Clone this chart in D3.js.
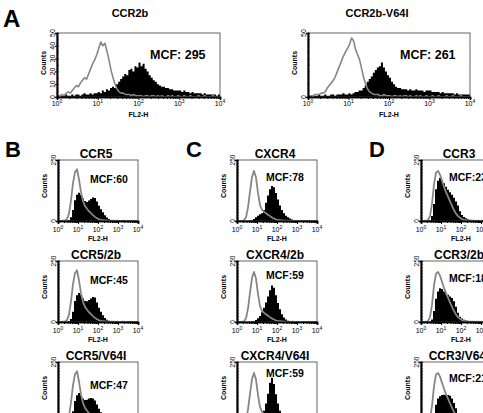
<!DOCTYPE html>
<html>
<head>
<meta charset="utf-8">
<script src="https://cdn.jsdelivr.net/npm/d3@7"></script>
<style>
  body { margin: 0; background: #fff; }
  text { font-family: "Liberation Sans", Arial, Helvetica, sans-serif; }
</style>
</head>
<body>
<script>
// ---- data: histogram counts per bin, bins evenly spaced in log10(FL2-H) from 10^0 to 10^4 ----

// Panel A, 20 bins per decade
const ccr2bCtrl = [1,1,2,1, 3,4,3,5, 7,9,8,11, 13,15,14,18, 22,26,29,33,
  38,43,40,42, 36,29,21,15, 10,6,4,3, 3,2,2,2, 1,2,1,1,
  1,1,0,1,1,0,1,1,0,1, 0,1,0,0,1,0,1,0,0,1,
  0,0,1,0,0,1,0,0,0,1, 0,0,1,0,0,0,1,0,0,0];
const ccr2bStain = [1,0,1,1,2,1,1,2,1,2, 2,1,2,3,2,2,3,2,3,3,
  4,3,5,4,6,5,7,8,7,10, 12,14,16,18,17,21,22,20,24,23,
  27,24,26,22,20,17,15,13,12,10, 9,8,8,7,7,6,6,5,5,5,
  5,4,5,4,4,3,4,3,3,3, 3,2,3,2,2,2,2,2,1,2];
const v64iCtrl = [1,1,1,2,2,2,3,3, 4,7,9,11,13,16,20,24,
  28,32,35,38,41,46,44,37, 33,29,22,15,10,6,4,3,
  2,2,2,1,1,2,1,1,
  1,0,1,1,0,1,0,1,1,0, 1,0,0,1,0,1,0,0,1,0,
  0,1,0,0,1,0,0,0,1,0, 0,1,0,0,0,1,0,0,0,0];
const v64iStain = [1,1,0,1,1,2,1,1,2,1, 1,2,2,1,2,2,2,3,2,2,
  3,2,3,4,4,5,5,7,9,12, 14,16,19,21,23,24,27,23,20,17,
  15,12,10,8,7,7,6,6,6,5, 6,5,5,6,5,5,5,4,5,5,
  5,4,4,4,4,3,4,3,3,3, 3,3,2,3,2,2,2,2,2,2];

// Panels B-D, 10 bins per decade
const ccr5Ctrl = [0,0,1,2,8,30,85,155,200,212, 170,118,82,62,50,40,32,24,17,11,
  7,5,3,2,2,1,1,1,0,1, 0,0,1,0,0,0,0,0,0,0];
const ccr5Stain = [0,0,0,1,1,3,15,45,85,108, 116,108,92,82,78,84,90,96,94,80,
  62,48,36,24,14,8,4,2,1,1, 1,0,1,1,0,0,1,0,0,0];
const ccr5_2bStain = [0,0,0,1,1,3,12,42,86,110, 119,112,96,86,85,90,96,102,100,80,
  58,42,28,16,9,5,3,2,1,1, 0,1,0,0,1,0,0,0,0,0];
const ccr5V64iStain = [0,0,0,1,1,4,16,48,90,114, 123,115,100,94,95,100,102,100,92,76,
  58,44,32,20,12,7,4,2,1,1, 1,0,0,1,0,0,0,0,0,0];

const cxcr4Ctrl = [0,0,1,3,15,55,120,180,205,178, 115,65,46,38,32,26,20,14,10,6,
  4,3,2,1,1,1,0,1,0,0, 0,0,0,0,0,0,0,0,0,0];
const cxcr4Stain = [0,0,0,0,1,1,2,3,8,15, 22,28,32,45,75,105,130,143,138,115,
  88,64,45,32,22,15,10,6,3,2, 1,1,1,0,1,0,0,0,0,0];
const cxcr4_2bStain = [0,0,0,0,1,1,1,2,3,8, 15,25,40,58,80,105,130,150,140,110,
  78,52,32,18,10,5,3,2,1,1, 0,0,0,0,0,0,0,0,0,0];
const cxcr4V64iStain = [0,0,0,0,1,1,2,3,6,9, 12,20,32,50,80,120,165,185,160,118,
  80,50,30,18,10,5,3,2,1,1, 0,0,0,0,0,0,0,0,0,0];

const ccr3Ctrl = [0,0,1,4,20,70,150,198,205,190, 165,140,118,100,80,62,45,30,20,13,
  8,5,3,2,1,1,1,0,1,0, 0,0,0,0,0,0,0,0,0,0];
const ccr3Stain = [0,0,0,1,3,20,70,130,165,176, 168,155,140,128,118,108,95,80,64,40,
  25,16,11,7,5,3,2,2,1,1, 1,0,1,0,0,0,0,0,0,0];
const ccr3_2bStain = [0,0,0,1,2,10,45,95,125,138, 135,125,118,112,105,98,85,62,38,22,
  14,9,6,4,3,2,1,1,1,0, 0,0,0,0,0,0,0,0,0,0];
const ccr3V64iStain = [0,0,0,1,2,8,35,75,100,110, 115,116,114,115,112,100,82,60,40,25,
  15,9,6,4,2,1,1,1,0,0, 0,0,0,0,0,0,0,0,0,0];

// axis labels
const decadeTicks = [1, 10, 100, 1000, 10000];
const decadeExps = ["0", "1", "2", "3", "4"];
const yLabelsA1 = [0, 10, 20, 30, 40, 50];
const yLabelsA2 = [0, 50];
const yLabelsBCD = [0, 250];

const titles = ["CCR2b", "CCR2b-V64I",
  "CCR5", "CCR5/2b", "CCR5/V64I",
  "CXCR4", "CXCR4/2b", "CXCR4/V64I",
  "CCR3", "CCR3/2b", "CCR3/V64I"];
const mcfs = ["MCF: 295", "MCF: 261",
  "MCF:60", "MCF:45", "MCF:47",
  "MCF:78", "MCF:59", "MCF:59",
  "MCF:23", "MCF:18", "MCF:21"];

// ---- layout ----
const width = 483, height = 413;
const svg = d3.select("body").append("svg")
  .attr("width", width).attr("height", height);

const colX = [58, 237, 421];
const rowY = [160, 261, 362];
const mcfOff = [[32, 23], [32, 23], [32, 27],   // B rows
                [29, 21], [29, 18], [29, 15],   // C rows
                [28, 21], [28, 21], [28, 20]];  // D rows

const panels = [
  {title: titles[0], mcf: mcfs[0], ctrl: ccr2bCtrl, stain: ccr2bStain, ymax: 50, yLabels: yLabelsA1, yMinor: 5,
   x0: 57, y0: 33, w: 163, h: 64, titleX: 130, titleY: 17, titleSize: 11, mcfX: 150, mcfY: 59, mcfSize: 12.5, big: true},
  {title: titles[1], mcf: mcfs[1], ctrl: v64iCtrl, stain: v64iStain, ymax: 50, yLabels: yLabelsA2, yMinor: 5,
   x0: 308, y0: 33, w: 162, h: 64, titleX: 377, titleY: 17, titleSize: 11, mcfX: 400, mcfY: 59, mcfSize: 12.5, big: true}
];
const colData = [
  [ccr5Ctrl, [ccr5Stain, ccr5_2bStain, ccr5V64iStain]],
  [cxcr4Ctrl, [cxcr4Stain, cxcr4_2bStain, cxcr4V64iStain]],
  [ccr3Ctrl, [ccr3Stain, ccr3_2bStain, ccr3V64iStain]]
];
colData.forEach((cd, c) => {
  cd[1].forEach((stain, r) => {
    const k = c * 3 + r;
    panels.push({title: titles[2 + k], mcf: mcfs[2 + k], ctrl: cd[0], stain: stain, ymax: 250,
      yLabels: yLabelsBCD, yMinor: 12.5,
      x0: colX[c], y0: rowY[r], w: 80, h: 61,
      titleX: colX[c] + 38, titleY: rowY[r] - 2, titleSize: 12,
      mcfX: colX[c] + mcfOff[k][0], mcfY: rowY[r] + mcfOff[k][1], mcfSize: 10.5, big: false});
  });
});

// panel letters
const letters = [["A", 3, 27, 24], ["B", 5, 157, 22], ["C", 186, 157, 22], ["D", 369, 157, 22]];
svg.selectAll("text.letter").data(letters).enter().append("text")
  .attr("class", "letter")
  .attr("x", d => d[1]).attr("y", d => d[2])
  .attr("font-size", d => d[3]).attr("font-weight", "bold")
  .text(d => d[0]);

function drawPanel(p) {
  const x = d3.scaleLog().domain([1, 1e4]).range([p.x0, p.x0 + p.w]);
  const y = d3.scaleLinear().domain([0, p.ymax]).range([p.y0 + p.h, p.y0]);
  const g = svg.append("g");
  const edges = arr => {
    const step = 4 / arr.length;
    return arr.map((v, i) => [Math.pow(10, i * step), v]).concat([[1e4, arr[arr.length - 1]]]);
  };
  const centers = arr => {
    const step = 4 / arr.length;
    return [[1, arr[0]]].concat(arr.map((v, i) => [Math.pow(10, (i + 0.5) * step), v]), [[1e4, arr[arr.length - 1]]]);
  };

  // stained cells: black filled histogram
  g.append("path").datum(edges(p.stain))
    .attr("d", d3.area().x(d => x(d[0])).y0(y(0)).y1(d => y(d[1])).curve(d3.curveStepAfter))
    .attr("fill", "#000");

  // control: grey outline
  g.append("path").datum(centers(p.ctrl))
    .attr("d", d3.line().x(d => x(d[0])).y(d => y(d[1])))
    .attr("fill", "none").attr("stroke", "#868686").attr("stroke-width", p.big ? 1.6 : 1.8)
    .attr("stroke-linejoin", "round");

  // frame
  g.append("rect").attr("x", p.x0).attr("y", p.y0).attr("width", p.w).attr("height", p.h)
    .attr("fill", "none").attr("stroke", "#555").attr("stroke-width", 0.9);

  // x axis with log minor ticks
  const minor = [];
  decadeTicks.slice(0, 4).forEach(d => { for (let k = 2; k < 10; k++) minor.push(d * k); });
  const xg = g.append("g").attr("transform", `translate(0,${p.y0 + p.h})`);
  xg.call(d3.axisBottom(x).tickValues(minor).tickSize(2).tickFormat(""));
  xg.append("g").call(d3.axisBottom(x).tickValues(decadeTicks).tickSize(3).tickFormat(""));
  xg.selectAll(".domain").attr("stroke", "#000").attr("stroke-width", 1.6);

  // y axis with minor ticks
  const yg = g.append("g").attr("transform", `translate(${p.x0},0)`);
  yg.call(d3.axisRight(y).tickValues(d3.range(0, p.ymax + 0.01, p.yMinor)).tickSize(1.5).tickFormat(""));
  yg.append("g").call(d3.axisLeft(y).tickValues(p.yLabels).tickSize(2).tickFormat(""));
  yg.selectAll(".domain").attr("stroke", "#000").attr("stroke-width", 1.6);

  // y tick labels (rotated), only those inside the picture
  const ys = p.big ? 7 : 6.5;
  g.selectAll("text.yl").data(p.yLabels.filter(d => y(d) + 4 < height)).enter().append("text")
    .attr("transform", d => `translate(${p.x0 - 5},${y(d)}) rotate(-90)`)
    .attr("text-anchor", "middle").attr("dominant-baseline", "central")
    .attr("font-size", ys).text(d => d);
  g.append("text")
    .attr("transform", `translate(${p.x0 - 14},${p.big ? p.y0 + 30 : p.y0 + 26}) rotate(-90)`)
    .attr("text-anchor", "middle").attr("dominant-baseline", "central")
    .attr("font-size", 7).attr("font-weight", "bold").text("Counts");

  // x tick labels 10^n
  const xly = p.y0 + p.h + (p.big ? 9 : 11);
  if (xly < height) {
    const xl = g.selectAll("text.xl").data(decadeTicks).enter().append("text")
      .attr("x", d => x(d)).attr("y", xly)
      .attr("text-anchor", "middle").attr("font-size", 7);
    xl.append("tspan").text("10");
    xl.append("tspan").attr("dy", -3).attr("font-size", 5).text((d, i) => decadeExps[i]);
  }
  if (p.y0 + p.h + 20 < height) {
    g.append("text").attr("x", p.x0 + p.w / 2).attr("y", p.y0 + p.h + 20)
      .attr("text-anchor", "middle").attr("font-size", 7).attr("font-weight", "bold").text("FL2-H");
  }

  // title and MCF
  g.append("text").attr("x", p.titleX).attr("y", p.titleY)
    .attr("text-anchor", "middle").attr("font-size", p.titleSize).attr("font-weight", "bold")
    .text(p.title);
  g.append("text").attr("x", p.mcfX).attr("y", p.mcfY)
    .attr("font-size", p.mcfSize).attr("font-weight", "bold").text(p.mcf);
}

panels.forEach(drawPanel);
</script>
</body>
</html>
